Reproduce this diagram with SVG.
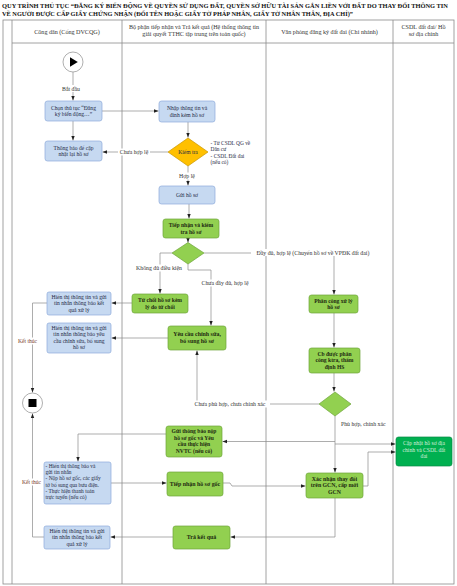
<svg xmlns="http://www.w3.org/2000/svg" width="457" height="586" viewBox="0 0 457 586">
<defs>
<marker id="ah" markerWidth="5" markerHeight="5" refX="4.5" refY="2.5" orient="auto" markerUnits="userSpaceOnUse">
<path d="M0,0.8 L4.5,2.5 L0,4.2 Z" fill="#222"/>
</marker>
<style>
.lane{stroke:#8a8a8a;stroke-width:0.8;fill:none}
.c{stroke:#8a8a8a;stroke-width:0.7;fill:none}
.ca{stroke:#8a8a8a;stroke-width:0.7;fill:none;marker-end:url(#ah)}
.blue{fill:#c6d9f1;stroke:#8eaadb;stroke-width:0.7}
.green{fill:#92d050;stroke:#6fa53b;stroke-width:0.7}
.dgreen{fill:#00b050;stroke:#0a8a45;stroke-width:0.7}
.t{font-family:"Liberation Serif",serif;font-size:5.6px;fill:#1f2a44;text-anchor:middle}
.tw{font-family:"Liberation Serif",serif;font-size:5.6px;fill:#d8eedd;text-anchor:middle}
.tb{font-family:"Liberation Serif",serif;font-size:5.6px;fill:#1e2b10;text-anchor:middle;font-weight:bold}
.tl{font-family:"Liberation Serif",serif;font-size:5.4px;fill:#1f2a44}
.lb{font-family:"Liberation Serif",serif;font-size:5.8px;fill:#333;text-anchor:middle}
.lbr{font-family:"Liberation Serif",serif;font-size:5.6px;fill:#7a3b2e;text-anchor:middle}
.h{font-family:"Liberation Serif",serif;font-size:6.1px;fill:#333;text-anchor:middle}
.title{font-family:"Liberation Serif",serif;font-size:6px;font-weight:bold;fill:#111}
</style>
</defs>
<rect width="457" height="586" fill="#fff"/>
<text class="title" x="2" y="7.5" textLength="446" lengthAdjust="spacingAndGlyphs">QUY  TRÌNH THỦ TỤC “ĐĂNG KÝ BIẾN ĐỘNG VỀ QUYỀN SỬ DỤNG ĐẤT, QUYỀN SỞ HỮU TÀI SẢN GẮN LIỀN VỚI ĐẤT DO THAY ĐỔI THÔNG TIN</text>
<text class="title" x="2" y="16" textLength="351" lengthAdjust="spacingAndGlyphs">VỀ NGƯỜI ĐƯỢC CẤP GIẤY CHỨNG NHẬN (ĐỔI TÊN HOẶC GIẤY TỜ PHÁP NHÂN, GIẤY TỜ NHÂN THÂN, ĐỊA CHỈ)”</text>
<g id="lanes">
<rect class="lane" x="3" y="20" width="451" height="564"/>
<line class="lane" x1="12" y1="20" x2="12" y2="584"/>
<line class="lane" x1="12" y1="43" x2="454" y2="43"/>
<line class="lane" x1="122" y1="20" x2="122" y2="584"/>
<line class="lane" x1="266" y1="20" x2="266" y2="584"/>
<line class="lane" x1="393" y1="20" x2="393" y2="584"/>
<text class="h" x="67" y="33.5">Công dân (Cổng DVCQG)</text>
<text class="h" x="194" y="28.8">Bộ phận tiếp nhận và Trả kết quả (Hệ thống thông tin</text>
<text class="h" x="194" y="35.6">giải quyết TTHC tập trung trên toàn quốc)</text>
<text class="h" x="329.5" y="33.5">Văn phòng đăng ký đất đai (Chi nhánh)</text>
<text class="h" x="423.5" y="28.8">CSDL đất đai/ Hồ</text>
<text class="h" x="423.5" y="35.6">sơ địa chính</text>
</g>
<g id="connectors">
<line class="ca" x1="73" y1="72" x2="73" y2="100.5"/>
<line class="ca" x1="73" y1="121" x2="73" y2="140.5"/>
<line class="ca" x1="102" y1="111" x2="158.5" y2="111"/>
<line class="ca" x1="188" y1="122" x2="188" y2="137.5"/>
<line class="ca" x1="168" y1="152" x2="102.5" y2="152"/>
<line class="ca" x1="188" y1="166" x2="188" y2="185.5"/>
<line class="ca" x1="189" y1="204" x2="189" y2="218.5"/>
<line class="ca" x1="188" y1="238" x2="188" y2="242.5"/>
<polyline class="ca" points="172,253 160,253 160,293.5"/>
<polyline class="ca" points="188,264 188,270 211,270 211,325.5"/>
<polyline class="ca" points="204,253 334,253 334,294.5"/>
<line class="ca" x1="132" y1="303" x2="111.5" y2="303"/>
<line class="ca" x1="168" y1="338" x2="111.5" y2="338"/>
<polyline class="ca" points="47,303 32.5,303 32.5,392.5"/>
<polyline class="ca" points="44,537 32.5,537 32.5,413.5"/>
<line class="ca" x1="334" y1="313" x2="334" y2="347.5"/>
<line class="ca" x1="334" y1="373" x2="334" y2="391.5"/>
<polyline class="ca" points="319,404 197,404 197,350.5"/>
<line class="ca" x1="335" y1="416" x2="335" y2="472.5"/>
<polyline class="ca" points="335,441.5 222.5,441.5"/>
<polyline class="ca" points="335,444 395.5,444"/>
<polyline class="ca" points="166,434 78,434 78,461.5"/>
<line class="ca" x1="111" y1="483" x2="166.5" y2="483"/>
<polyline class="ca" points="223,483 230,483 232,486 305.5,486"/>
<polyline class="ca" points="363,486 368,486 368,452 395.5,452"/>
<polyline class="ca" points="335,498 335,537 230.5,537"/>
<line class="ca" x1="173" y1="537" x2="110.5" y2="537"/>
<g id="conn-labels">
<rect x="61" y="85" width="20" height="7" fill="#fff"/>
<text class="lb" x="71" y="90.5">Bắt đầu</text>
<rect x="118" y="148.5" width="32" height="7" fill="#fff"/>
<text class="lb" x="134" y="154">Chưa hợp lệ</text>
<rect x="178" y="172.5" width="18" height="7" fill="#fff"/>
<text class="lb" x="187" y="178">Hợp lệ</text>
<rect x="134" y="264.5" width="50" height="7" fill="#fff"/>
<text class="lb" x="159" y="270">Không đủ điều kiện</text>
<rect x="200" y="279.5" width="51" height="7" fill="#fff"/>
<text class="lb" x="225" y="285">Chưa đầy đủ, hợp lệ</text>
<rect x="251" y="249" width="124" height="7" fill="#fff"/>
<text class="lb" x="313" y="254.5">Đầy đủ, hợp lệ (Chuyển hồ sơ về VPĐK đất đai)</text>
<rect x="17" y="337.5" width="21" height="7" fill="#fff"/>
<text class="lbr" x="27.5" y="343">Kết thúc</text>
<rect x="21" y="478.5" width="21" height="7" fill="#fff"/>
<text class="lbr" x="31.5" y="484">Kết thúc</text>
<rect x="190" y="400.5" width="80" height="7" fill="#fff"/>
<text class="lb" x="230" y="406">Chưa phù hợp, chưa chính xác</text>
<rect x="340" y="420.5" width="50" height="7" fill="#fff"/>
<text class="lb" x="341" y="426" style="text-anchor:start">Phù hợp, chính xác</text>
</g>
</g>
<g id="start">
<circle cx="73" cy="62" r="10" fill="#fff" stroke="#9a9a9a" stroke-width="0.8"/>
<path d="M70,57.3 L77.8,62 L70,66.7 Z" fill="#000"/>
</g>
<g id="chon-thu-tuc">
<rect class="blue" x="45" y="101" width="57" height="20" rx="2.5"/>
<text class="t" x="73.5" y="109.6">Chọn thủ tục “Đăng</text>
<text class="t" x="73.5" y="116.4">ký biến động…”</text>
</g>
<g id="thong-bao-cap-nhat">
<rect class="blue" x="45" y="141" width="57" height="20" rx="2.5"/>
<text class="t" x="73.5" y="149.6">Thông báo để cập</text>
<text class="t" x="73.5" y="156.4">nhật lại hồ sơ</text>
</g>
<g id="nhap-thong-tin">
<rect class="blue" x="159" y="101" width="56" height="21" rx="2.5"/>
<text class="t" x="187" y="110">Nhập thông tin và</text>
<text class="t" x="187" y="116.8">đính kèm hồ sơ</text>
</g>
<g id="kiem-tra">
<path d="M188,138 L208,152 L188,166 L168,152 Z" fill="#ffc000" stroke="#c99700" stroke-width="0.7"/>
<text class="t" x="188" y="154">Kiểm tra</text>
</g>
<g id="ghi-chu">
<text class="tl" x="210.5" y="145">- Từ CSDL QG về</text>
<text class="tl" x="210.5" y="151.3">Dân cư</text>
<text class="tl" x="210.5" y="157.6">- CSDL Đất đai</text>
<text class="tl" x="210.5" y="164">(nếu có)</text>
</g>
<g id="gui-ho-so">
<rect class="blue" x="159" y="186" width="56" height="18" rx="2.5"/>
<text class="t" x="187" y="197">Gửi hồ sơ</text>
</g>
<g id="tiep-nhan-kiem-tra">
<rect class="green" x="163" y="219" width="56" height="19" rx="2.5"/>
<text class="tb" x="191" y="227">Tiếp nhận và kiểm</text>
<text class="tb" x="191" y="233.8">tra hồ sơ</text>
</g>
<g id="dieu-kien">
<path d="M188,242.5 L204,253 L188,264 L172,253 Z" class="green"/>
</g>
<g id="tu-choi">
<rect class="green" x="132" y="294" width="56" height="19" rx="2.5"/>
<text class="tb" x="160" y="302">Từ chối hồ sơ kèm</text>
<text class="tb" x="160" y="308.8">lý do từ chối</text>
</g>
<g id="yeu-cau-chinh-sua">
<rect class="green" x="168" y="326" width="58" height="24" rx="2.5"/>
<text class="tb" x="197" y="336" style="font-size:5.9px">Yêu cầu chỉnh sửa,</text>
<text class="tb" x="197" y="343.2" style="font-size:5.9px">bổ sung hồ sơ</text>
</g>
<g id="hien-thi-ket-qua-1">
<rect class="blue" x="47" y="292" width="64" height="23" rx="2"/>
<text class="t" x="79" y="298.8">Hiển thị thông tin và gửi</text>
<text class="t" x="79" y="305.2">tin nhắn thông báo kết</text>
<text class="t" x="79" y="311.6">quả xử lý</text>
</g>
<g id="hien-thi-yeu-cau">
<rect class="blue" x="47" y="323" width="64" height="30" rx="2"/>
<text class="t" x="79" y="330">Hiển thị thông tin và gửi</text>
<text class="t" x="79" y="336.4">tin nhắn thông báo yêu</text>
<text class="t" x="79" y="342.8">cầu chỉnh sửa, bổ sung</text>
<text class="t" x="79" y="349.2">hồ sơ</text>
</g>
<g id="end">
<circle cx="32.5" cy="403" r="10" fill="#fff" stroke="#9a9a9a" stroke-width="0.8"/>
<rect x="28.5" y="399" width="8" height="8" fill="#000"/>
</g>
<g id="phan-cong">
<rect class="green" x="309" y="295" width="49" height="18" rx="2.5"/>
<text class="tb" x="333.5" y="302.5">Phân công xử lý</text>
<text class="tb" x="333.5" y="309.3">hồ sơ</text>
</g>
<g id="cb-tham-dinh">
<rect class="green" x="309" y="348" width="51" height="25" rx="2.5"/>
<text class="tb" x="334.5" y="355.5">Cb được phân</text>
<text class="tb" x="334.5" y="362.2">công ktra, thẩm</text>
<text class="tb" x="334.5" y="368.9">định HS</text>
</g>
<g id="phu-hop">
<path d="M335,392 L351,404 L335,416 L319,404 Z" class="green"/>
</g>
<g id="gui-thong-bao">
<rect class="green" x="166" y="426" width="56" height="31" rx="2.5"/>
<text class="tb" x="194" y="433">Gửi thông báo nộp</text>
<text class="tb" x="194" y="439.6">hồ sơ gốc và Yêu</text>
<text class="tb" x="194" y="446.2">cầu thực hiện</text>
<text class="tb" x="194" y="452.8">NVTC (nếu có)</text>
</g>
<g id="hien-thi-nop-ho-so">
<rect class="blue" x="44" y="462" width="67" height="42" rx="2"/>
<text class="tl" x="45.5" y="468">- Hiển thị thông báo và</text>
<text class="tl" x="45.5" y="474.2">gửi tin nhắn</text>
<text class="tl" x="45.5" y="480.4">- Nộp hồ sơ gốc, các giấy</text>
<text class="tl" x="45.5" y="486.6">tờ bổ sung qua bưu điện.</text>
<text class="tl" x="45.5" y="492.8">- Thực hiện thanh toán</text>
<text class="tl" x="45.5" y="499">trực tuyến (nếu có)</text>
</g>
<g id="tiep-nhan-ho-so-goc">
<rect class="green" x="167" y="472" width="56" height="24" rx="2.5"/>
<text class="tb" x="195" y="485.8" style="font-size:5.9px">Tiếp nhận hồ sơ gốc</text>
</g>
<g id="xac-nhan">
<rect class="green" x="306" y="473" width="57" height="25" rx="2.5"/>
<text class="tb" x="334.5" y="480.5" style="font-size:5.8px">Xác nhận thay đổi</text>
<text class="tb" x="334.5" y="487.2" style="font-size:5.8px">trên GCN, cấp mới</text>
<text class="tb" x="334.5" y="493.9" style="font-size:5.8px">GCN</text>
</g>
<g id="cap-nhat-csdl">
<rect class="dgreen" x="396" y="437" width="56" height="29" rx="2.5"/>
<text class="tw" x="424" y="445">Cập nhật hồ sơ địa</text>
<text class="tw" x="424" y="451.6">chính và CSDL đất</text>
<text class="tw" x="424" y="458.2">đai</text>
</g>
<g id="tra-ket-qua">
<rect class="green" x="173" y="526" width="57" height="23" rx="2.5"/>
<text class="tb" x="201.5" y="539.2" style="font-size:5.9px">Trả kết quả</text>
</g>
<g id="hien-thi-ket-qua-2">
<rect class="blue" x="44" y="526" width="66" height="23" rx="2"/>
<text class="t" x="77" y="532.8">Hiển thị thông tin và gửi</text>
<text class="t" x="77" y="539.2">tin nhắn thông báo kết</text>
<text class="t" x="77" y="545.6">quả xử lý</text>
</g>
</svg>
